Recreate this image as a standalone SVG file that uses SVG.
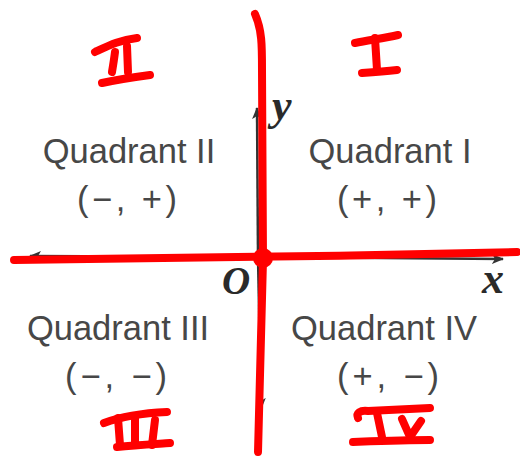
<svg xmlns="http://www.w3.org/2000/svg" width="520" height="461" viewBox="0 0 520 461">
<defs>
<style>
.q{font-family:"Liberation Sans",Arial,sans-serif;font-size:34.5px;fill:#474747;text-anchor:middle}
.lbl{font-family:"Liberation Serif","Times New Roman",serif;font-weight:bold;font-style:italic;fill:#2a2a2a}
.axis{stroke:#333;stroke-width:2.5;fill:none}
.ink{stroke:#ff0000;stroke-width:8;fill:none;stroke-linecap:round;stroke-linejoin:round}
</style>
<marker id="ah" viewBox="0 0 12 10" refX="11" refY="5" markerWidth="12" markerHeight="10" markerUnits="userSpaceOnUse" orient="auto">
<path d="M0,0 L12,5 L0,10 L3,5 Z" fill="#333"/>
</marker>
</defs>
<rect width="520" height="461" fill="#fff"/>
<g id="axes">
<line class="axis" x1="258" y1="257" x2="30" y2="256" marker-end="url(#ah)"/>
<line class="axis" x1="258" y1="257" x2="503" y2="259" marker-end="url(#ah)"/>
<line class="axis" x1="258" y1="257" x2="257" y2="108" marker-end="url(#ah)"/>
<line class="axis" x1="258" y1="257" x2="261" y2="409" marker-end="url(#ah)"/>
</g>
<g id="axis-labels">
<text class="lbl" x="272" y="120" font-size="44">y</text>
<text class="lbl" x="482" y="293" font-size="44">x</text>
<text class="lbl" x="222" y="294" font-size="39">O</text>
</g>
<g id="quadrant-2">
<text class="q" x="129" y="163">Quadrant II</text>
<text class="q" x="127" y="211" textLength="100" lengthAdjust="spacing">(−, +)</text>
</g>
<g id="quadrant-1">
<text class="q" x="390" y="163">Quadrant I</text>
<text class="q" x="387" y="211" textLength="100" lengthAdjust="spacing">(+, +)</text>
</g>
<g id="quadrant-3">
<text class="q" x="118" y="340">Quadrant III</text>
<text class="q" x="116" y="388" textLength="102" lengthAdjust="spacing">(−, −)</text>
</g>
<g id="quadrant-4">
<text class="q" x="384" y="340">Quadrant IV</text>
<text class="q" x="388" y="388" textLength="102" lengthAdjust="spacing">(+, −)</text>
</g>
<g id="red-annotations">
<path class="ink" d="M14,260 C150,259 350,256 517,252"/>
<path class="ink" d="M255,14 C262,30 262,45 262,70 L263,260 L258,452"/>
<circle cx="263" cy="258" r="10" fill="#ff0000"/>
<g id="numeral-2">
<path class="ink" d="M95,52 C110,45 120,40 137,38"/>
<path class="ink" d="M115,52 C114,60 113,66 112,72"/>
<path class="ink" d="M127,46 L128,72"/>
<path class="ink" d="M102,83 C120,79 135,77 150,75"/>
</g>
<g id="numeral-1">
<path class="ink" d="M355,43 C370,40 385,38 398,35"/>
<path class="ink" d="M375,38 L377,70"/>
<path class="ink" d="M362,73 C375,72 387,71 397,70"/>
</g>
<g id="numeral-3">
<path class="ink" d="M104,423 C120,417 145,413 167,412"/>
<path class="ink" d="M118,418 L120,445"/>
<path class="ink" d="M135,417 L135,443"/>
<path class="ink" d="M155,420 L152,445"/>
<path class="ink" d="M117,447 C135,445 155,444 170,443"/>
</g>
<g id="numeral-4">
<path class="ink" d="M358,418 C356,413 360,410 368,411 C390,410 410,409 430,408"/>
<path class="ink" d="M377,413 L382,437"/>
<path class="ink" d="M402,419 L410,437 L421,421"/>
<path class="ink" d="M353,442 C380,441 405,440 430,440"/>
</g>
</g>
</svg>
